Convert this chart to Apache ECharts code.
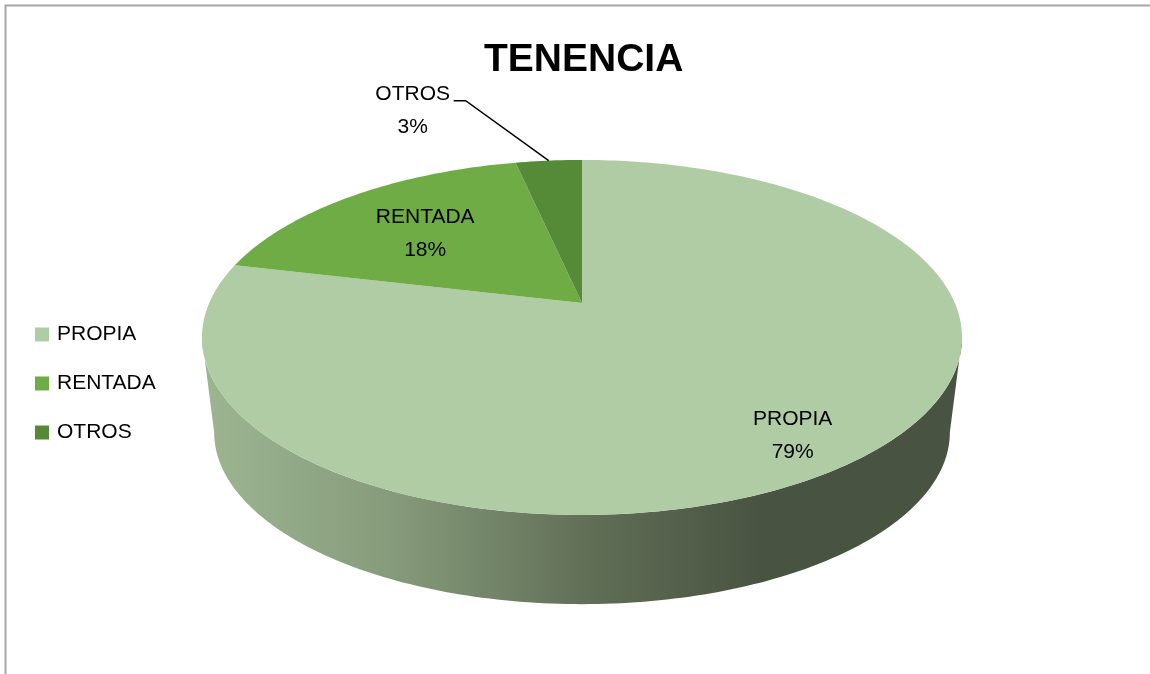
<!DOCTYPE html>
<html>
<head>
<meta charset="utf-8">
<script src="https://cdn.jsdelivr.net/npm/echarts@6/dist/echarts.min.js"></script>
<style>
html, body { margin: 0; padding: 0; background: #fff; }
#main { width: 1150px; height: 674px; }
</style>
</head>
<body>
<div id="main"></div>
<script>
var categories = ['PROPIA', 'RENTADA', 'OTROS'];
var values = [78.7, 17.9, 3.4];
var sliceColors = ['#b0cca4', '#6fac46', '#558b37'];

var total = values.reduce(function(a, b) { return a + b; }, 0);

// tilted disc layout (perspective), angles clockwise from 12 o'clock
var CX = 582, CY = 303, SX = 372.8, SY = 170.8, K = 0.194;
var DEPTH = 96, BSCALE = 0.968;
var labelRadius = [0.80, 0.655, 1];
var labelDy = [11, 4, 10];
var FONT = 'Liberation Sans';
// silhouette (tangent) angles of the side wall
var SIDE_A = Math.acos(-K) * 180 / Math.PI, SIDE_B = 360 - SIDE_A;

function pt(deg, r, bottom) {
    var t = deg * Math.PI / 180;
    var u = Math.sin(t), v = -Math.cos(t);
    var d = 1 - K * r * v;
    var x = SX * r * u / d, y = SY * r * v / d;
    if (bottom) {
        x *= BSCALE;
        y = y * BSCALE + DEPTH;
    }
    return [CX + x, CY + y];
}

function arc(a, b, r, bottom) {
    var pts = [];
    var n = Math.max(2, Math.ceil(Math.abs(b - a)));
    for (var i = 0; i <= n; i++) {
        pts.push(pt(a + (b - a) * i / n, r, bottom));
    }
    return pts;
}

function sliceRange(idx, val) {
    var s = 0;
    for (var j = 0; j < idx; j++) s += values[j];
    return [s / total * 360, (s + val) / total * 360];
}

var wallFill = {
    type: 'linear', x: 203, y: 0, x2: 760, y2: 0, global: true,
    colorStops: [
        { offset: 0, color: '#9db691' },
        { offset: 0.35, color: '#859a7a' },
        { offset: 0.7, color: '#606e56' },
        { offset: 1, color: '#495341' }
    ]
};

var series = [{
    name: 'wall',
    type: 'custom',
    coordinateSystem: 'none',
    silent: true,
    data: values.map(function(v) { return [v]; }),
    renderItem: function(params, api) {
        var rg = sliceRange(params.dataIndex, api.value(0));
        var a = Math.max(rg[0], SIDE_A), b = Math.min(rg[1], SIDE_B);
        if (b <= a) return null;
        var pts = arc(a, b, 1, false).concat(arc(b, a, 1, true));
        return { type: 'polygon', shape: { points: pts }, style: { fill: wallFill } };
    }
}];

categories.forEach(function(name, i) {
    series.push({
        name: name,
        type: 'custom',
        coordinateSystem: 'none',
        itemStyle: { color: sliceColors[i] },
        data: [[values[i]]],
        renderItem: function(params, api) {
            var val = api.value(0);
            var rg = sliceRange(i, val);
            var pts = [[CX, CY]].concat(arc(rg[0], rg[1], 1, false));
            var children = [{
                type: 'polygon',
                shape: { points: pts },
                style: { fill: sliceColors[i] }
            }];
            var mid = (rg[0] + rg[1]) / 2;
            var text = name + '\n' + Math.round(val / total * 100) + '%';
            var txtStyle = {
                text: text, fill: '#000', fontSize: 21, fontFamily: FONT,
                lineHeight: 33, align: 'center', verticalAlign: 'middle'
            };
            if (val / total >= 0.05) {
                var p = pt(mid, labelRadius[i], false);
                txtStyle.x = p[0];
                txtStyle.y = p[1] + labelDy[i];
                children.push({ type: 'text', style: txtStyle, z2: 10 });
            } else {
                var p0 = pt(mid, 1, false);
                var p1 = [p0[0] - 83, p0[1] - 60];
                var p2 = [p1[0] - 12, p1[1]];
                children.push({
                    type: 'polyline',
                    shape: { points: [p0, p1, p2] },
                    style: { stroke: '#000', lineWidth: 1.5, fill: null }
                });
                txtStyle.x = p2[0] - 41;
                txtStyle.y = p2[1] + labelDy[i];
                children.push({ type: 'text', style: txtStyle, z2: 10 });
            }
            return { type: 'group', children: children };
        }
    });
});

var myChart = echarts.init(document.getElementById('main'));

var option = {
    animation: false,
    backgroundColor: '#fff',
    title: {
        text: 'TENENCIA',
        left: 479,
        top: 36,
        textStyle: {
            fontSize: 39,
            fontWeight: 'bold',
            fontFamily: FONT,
            color: '#000'
        }
    },
    legend: {
        data: categories,
        orient: 'vertical',
        left: 30,
        top: 319,
        icon: 'rect',
        itemWidth: 14,
        itemHeight: 14,
        itemGap: 28,
        textStyle: {
            fontSize: 21,
            fontFamily: FONT,
            color: '#000',
            padding: [0, 0, 0, 3]
        }
    },
    graphic: [{
        type: 'rect',
        silent: true,
        z: -10,
        shape: { x: 5.5, y: 5.5, width: 1300, height: 800 },
        style: { fill: null, stroke: '#a6a6a6', lineWidth: 2 }
    }],
    series: series
};

myChart.setOption(option);
</script>
</body>
</html>
